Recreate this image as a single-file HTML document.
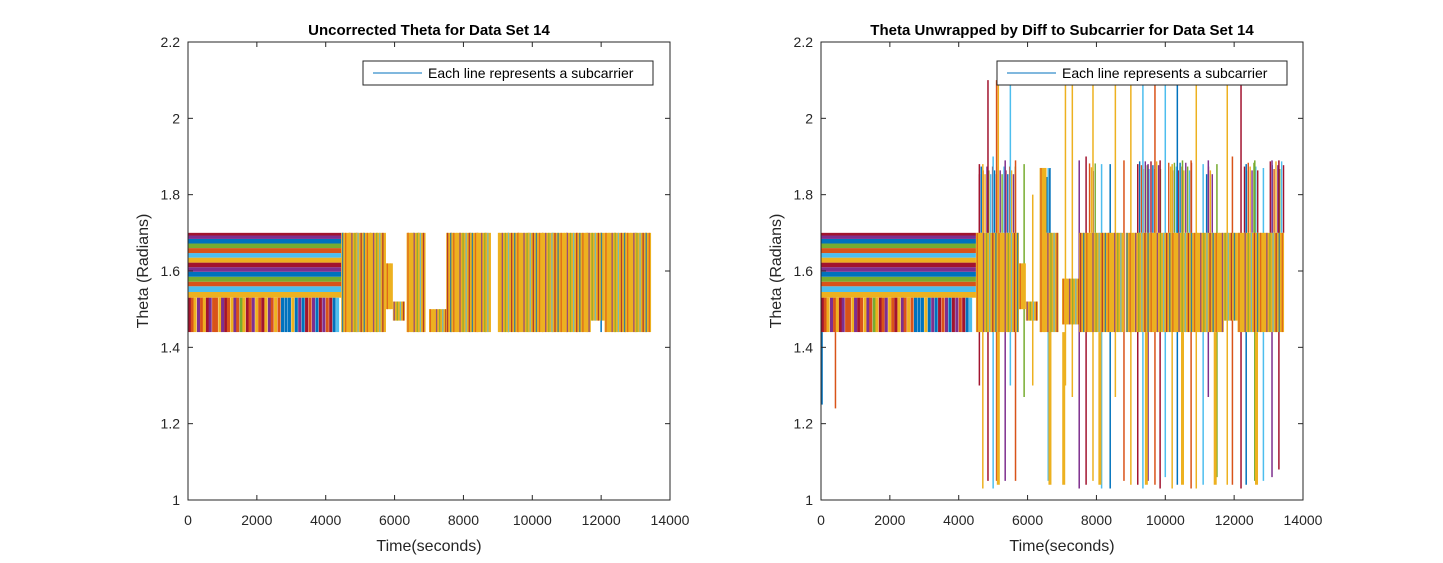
<!DOCTYPE html>
<html><head><meta charset="utf-8"><style>
body{margin:0;background:#fff;}
svg{display:block;font-family:"Liberation Sans",sans-serif;}
</style></head><body>
<svg id="c" width="1443" height="563"></svg>
<script>
const COLORS=['#0072BD','#D95319','#EDB120','#7E2F8E','#77AC30','#4DBEEE','#A2142F'];
const xTicks=[0,2000,4000,6000,8000,10000,12000,14000];
const yTicks=[1,1.2,1.4,1.6,1.8,2,2.2];
const titles=['Uncorrected Theta for Data Set 14','Theta Unwrapped by Diff to Subcarrier for Data Set 14'];
const stripeEnd=[4450,4500];
const stripeLevels=[1.53,1.545,1.56,1.572,1.585,1.598,1.61,1.622,1.635,1.647,1.66,1.672,1.684,1.693,1.70];
const barT=[0,80,160,260,350,430,520,600,700,780,880,960,1050,1130,1230,1320,1400,1500,1580,1680,1760,1850,1950,2040,2130,2220,2320,2400,2500,2600,2700,2800,2900,3000,3100,3200,3300,3400,3500,3600,3700,3800,3900,4000,4100,4200,4300];
const barC=[6,1,2,3,1,2,6,3,1,1,2,3,6,1,2,3,1,4,2,6,1,3,2,1,6,2,3,1,2,1,0,0,0,2,0,3,0,6,1,3,0,6,3,1,6,0,5];
const lBlkS=[4450,5750,5950,6350,7000,7500,9000,11700,12100];
const lBlkE=[5750,5950,6300,6900,7500,8800,11700,12100,13450];
const lBlkLo=[1.44,1.50,1.47,1.44,1.44,1.44,1.44,1.47,1.44];
const lBlkHi=[1.70,1.62,1.52,1.70,1.50,1.70,1.70,1.70,1.70];
const rBlkS=[4500,5750,5950,6350,6550,7000,7500,8850,9100,11700,12100];
const rBlkE=[5750,5950,6300,6550,6900,7500,8800,9100,11700,12100,13450];
const rBlkLo=[1.44,1.50,1.47,1.44,1.44,1.46,1.44,1.44,1.44,1.47,1.44];
const rBlkHi=[1.70,1.62,1.52,1.87,1.70,1.58,1.70,1.70,1.70,1.70,1.70];
const rUpS=[4600,6400,7800,9200,10100,11200,12300,13050];
const rUpE=[5700,6650,8000,9900,10800,11400,12700,13450];
const rUpHi=[1.88,1.87,1.89,1.89,1.89,1.88,1.89,1.89];
const lSpT=[4500,4700,4900,5100,5300,5500,6400,6550,6700,7650,7900,8200,8400,8650,9300,9600,9900,10300,10600,11000,11300,11600,12000,12400,12700,13000,13300];
const lSpLo=[1.44,1.44,1.44,1.44,1.44,1.44,1.44,1.44,1.44,1.44,1.44,1.44,1.44,1.44,1.44,1.44,1.44,1.44,1.44,1.44,1.44,1.44,1.44,1.44,1.44,1.44,1.44];
const lSpHi=[1.70,1.70,1.70,1.70,1.70,1.70,1.70,1.70,1.70,1.70,1.70,1.70,1.70,1.70,1.70,1.70,1.70,1.70,1.70,1.70,1.70,1.70,1.70,1.70,1.70,1.70,1.70];
const lSpC=[0,6,3,1,0,2,1,0,6,3,1,0,6,3,0,6,1,3,0,6,1,3,0,1,6,3,1];
const rSpT=[30,420,4600,4700,4850,5000,5100,5150,5350,5500,5650,5900,6150,6600,6650,7100,7300,7500,7700,7900,8150,8400,8550,8800,9000,9200,9350,9500,9700,9850,10000,10200,10350,10500,10750,10900,11100,11250,11500,11800,11950,12200,12350,12600,12850,13100,13300];
const rSpLo=[1.25,1.24,1.30,1.03,1.05,1.03,1.05,1.20,1.05,1.30,1.05,1.27,1.30,1.05,1.05,1.30,1.27,1.03,1.04,1.05,1.03,1.03,1.27,1.05,1.04,1.04,1.03,1.05,1.04,1.03,1.06,1.03,1.04,1.27,1.03,1.03,1.04,1.27,1.06,1.04,1.04,1.03,1.04,1.05,1.05,1.06,1.08];
const rSpHi=[1.44,1.44,1.88,1.88,2.10,1.90,2.10,2.10,1.89,2.10,1.89,1.88,1.80,1.87,1.87,2.10,2.10,1.89,1.90,2.10,1.88,1.88,2.10,1.89,2.10,1.88,2.10,1.88,2.10,1.89,2.10,1.88,2.10,1.89,1.89,2.10,1.88,1.89,1.88,2.10,1.90,2.10,1.88,1.89,1.87,1.89,1.89];
const rSpC=[0,1,6,2,6,5,1,2,3,5,1,4,2,5,0,2,2,3,6,2,5,0,2,1,2,6,5,3,1,6,5,2,0,4,1,2,5,3,4,2,1,6,0,4,5,3,6];
const rYel=[5150,6650,7050,8100,9450,10500,11450,12650];

const svg=document.getElementById('c');
const NS='http://www.w3.org/2000/svg';
function mk(tag,attrs,parent){const e=document.createElementNS(NS,tag);for(const k in attrs)e.setAttribute(k,attrs[k]);(parent||svg).appendChild(e);return e;}
const axes=[{x0:188,x1:670},{x0:821,x1:1303}];
const Y0=500,Y1=42;
axes.forEach((ax,i)=>{
  const xs=t=>ax.x0+t/14000*(ax.x1-ax.x0);
  const ys=v=>Y0-(v-1)/1.2*(Y0-Y1);
  const g=mk('g',{});
  
  
  const clip=mk('clipPath',{id:'cl'+i},g);mk('rect',{x:ax.x0,y:Y1,width:ax.x1-ax.x0,height:Y0-Y1},clip);
  const pg=mk('g',{'clip-path':'url(#cl'+i+')'},g);
  for(let s=0;s<stripeLevels.length-1;s++){
    const r=mk('rect',{x:xs(0),y:ys(stripeLevels[s+1]),width:xs(stripeEnd[i])-xs(0),height:ys(stripeLevels[s])-ys(stripeLevels[s+1]),fill:COLORS[(s*3+2)%7]},pg);
    
  }
  barT.forEach((t,k)=>{
    const r=mk('rect',{x:xs(t),y:ys(1.53),width:xs(t+90)-xs(t),height:ys(1.44)-ys(1.53),fill:COLORS[barC[k]]},pg);
    
  });
  if(i){rUpS.forEach((s,k)=>{
    for(let t=s;t<rUpE[k];t+=55){
      const l=mk('line',{x1:xs(t),x2:xs(t),y1:ys(rUpHi[k]-((t/55)%3)*0.01),y2:ys(1.70),stroke:COLORS[Math.floor(t/55)%7],'stroke-width':1.4},pg);
      
    }
  });}
  const T=i?rSpT:lSpT,LO=i?rSpLo:lSpLo,HI=i?rSpHi:lSpHi,C=i?rSpC:lSpC;
  T.forEach((t,k)=>{
    const l=mk('line',{x1:xs(t),x2:xs(t),y1:ys(LO[k]),y2:ys(HI[k]),stroke:COLORS[C[k]],'stroke-width':1.5},pg);
    
  });
  if(i){rYel.forEach(t=>{
    const l=mk('line',{x1:xs(t),x2:xs(t),y1:ys(1.04),y2:ys(1.44),stroke:'#EDB120','stroke-width':3},pg);
    
  });}
  const BS=i?rBlkS:lBlkS,BE=i?rBlkE:lBlkE,BL=i?rBlkLo:lBlkLo,BH=i?rBlkHi:lBlkHi;
  BS.forEach((s,k)=>{
    const r=mk('rect',{x:xs(s),y:ys(BH[k]),width:xs(BE[k])-xs(s),height:ys(BL[k])-ys(BH[k]),fill:'#EDB120'},pg);
    
    for(let t=s+40;t<BE[k];t+=90){
      const l=mk('line',{x1:xs(t),x2:xs(t),y1:ys(BH[k]),y2:ys(BL[k]),stroke:COLORS[Math.floor(t/90)%7],'stroke-width':1.3,opacity:0.75},pg);
      
    }
  });
  const f=mk('rect',{x:ax.x0,y:Y1,width:ax.x1-ax.x0,height:Y0-Y1,fill:'none',stroke:'#262626','stroke-width':1},g);
  
  xTicks.forEach(t=>{
    const x=xs(t);
    mk('line',{x1:x,x2:x,y1:Y0,y2:Y0-5,stroke:'#262626'},g);mk('line',{x1:x,x2:x,y1:Y1,y2:Y1+5,stroke:'#262626'},g);
    const tx=mk('text',{x:x,y:Y0+25,'font-size':14,'text-anchor':'middle',fill:'#262626'},g);tx.textContent=t;
    
  });
  yTicks.forEach(v=>{
    const y=ys(v);
    mk('line',{x1:ax.x0,x2:ax.x0+5,y1:y,y2:y,stroke:'#262626'},g);mk('line',{x1:ax.x1,x2:ax.x1-5,y1:y,y2:y,stroke:'#262626'},g);
    const tx=mk('text',{x:ax.x0-8,y:y+5,'font-size':14,'text-anchor':'end',fill:'#262626'},g);tx.textContent=v;
    
  });
  const tt=mk('text',{x:(ax.x0+ax.x1)/2,y:35,'font-size':15,'font-weight':'bold','text-anchor':'middle',fill:'#000'},g);tt.textContent=titles[i];
  
  const xl=mk('text',{x:(ax.x0+ax.x1)/2,y:551,'font-size':16,'text-anchor':'middle',fill:'#262626'},g);xl.textContent='Time(seconds)';
  
  const yl=mk('text',{x:0,y:0,'font-size':16,'text-anchor':'middle',fill:'#262626',transform:'translate('+(ax.x0-40)+',271) rotate(-90)'},g);yl.textContent='Theta (Radians)';
  
  const lx=i?997:363;
  const lg=mk('g',{},g);
  
  mk('rect',{x:lx,y:61,width:290,height:24,fill:'#fff',stroke:'#262626'},lg);
  mk('line',{x1:lx+10,x2:lx+59,y1:73,y2:73,stroke:'#0072BD','stroke-width':1},lg);
  const lt=mk('text',{x:lx+65,y:78,'font-size':14,fill:'#000'},lg);lt.textContent='Each line represents a subcarrier';
  
});
</script>
</body></html>
